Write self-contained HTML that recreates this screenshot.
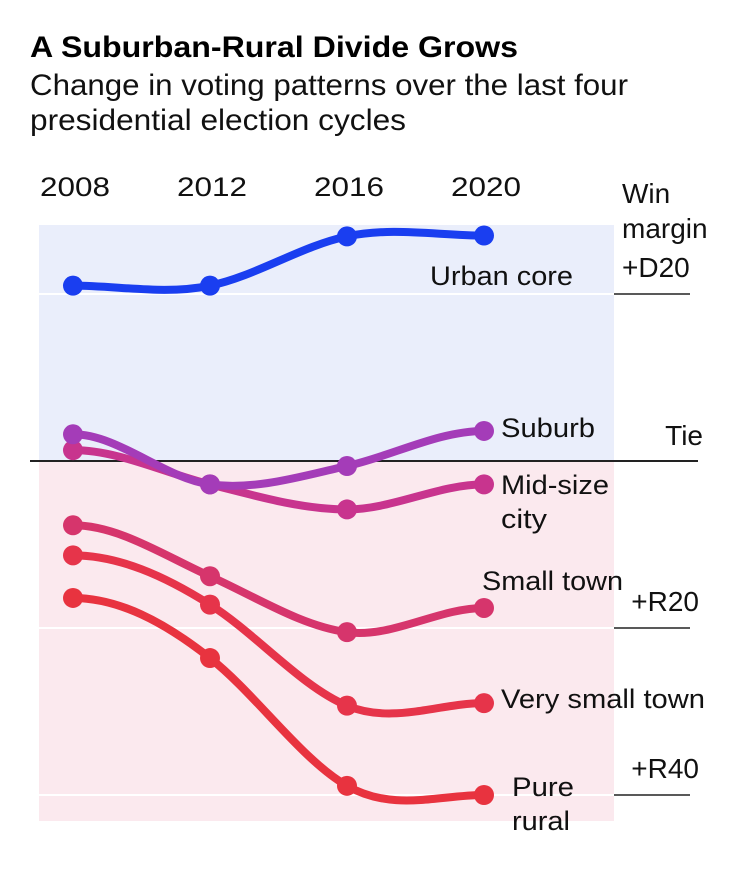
<!DOCTYPE html>
<html><head><meta charset="utf-8"><style>
html,body{margin:0;padding:0;background:#fff;width:750px;height:878px;overflow:hidden;font-family:"Liberation Sans",Arial,sans-serif}
</style></head><body>
<svg width="750" height="878" viewBox="0 0 750 878" style="position:absolute;left:0;top:0">
<text x="30" y="57" font-size="30" font-weight="bold" fill="#000" textLength="488" lengthAdjust="spacingAndGlyphs">A Suburban-Rural Divide Grows</text>
<text x="30" y="95" font-size="30" fill="#111" textLength="598" lengthAdjust="spacingAndGlyphs">Change in voting patterns over the last four</text>
<text x="30" y="130" font-size="30" fill="#111" textLength="376" lengthAdjust="spacingAndGlyphs">presidential election cycles</text>
<g id="bg"></g>
<g id="axes"></g>
<g id="series"></g>
</svg>
<script>
const years = ["2008","2012","2016","2020"];
const seriesNames = ["Urban core","Suburb","Mid-size city","Small town","Very small town","Pure rural"];
const urbanCore = [21, 21, 26.9, 27];
const suburb = [3.2, -2.8, -0.6, 3.6];
const midSizeCity = [1.3, -2.8, -5.8, -2.8];
const smallTown = [-7.7, -13.8, -20.5, -17.6];
const verySmallTown = [-11.3, -17.2, -29.3, -29];
const pureRural = [-16.4, -23.6, -38.9, -40];
const yTicks = [20, 0, -20, -40];
const yTickLabels = ["+D20","Tie","+R20","+R40"];

const NS="http://www.w3.org/2000/svg";
function x(i){return 73 + i*137;}
function y(v){return 461 - v*8.35;}
function mk(tag,attrs,parent,text){const e=document.createElementNS(NS,tag);for(const k in attrs)e.setAttribute(k,attrs[k]);if(text!==undefined)e.textContent=text;parent.appendChild(e);return e;}

const bg=document.getElementById('bg'), axes=document.getElementById('axes'), ser=document.getElementById('series');
let r=mk('rect',{x:39,y:225,width:575,height:y(0)-225,fill:'#eaeefb'},bg);


r=mk('rect',{x:39,y:y(0),width:575,height:821-y(0),fill:'#fbe9ee'},bg);



years.forEach((yr,i)=>{
  const t=mk('text',{x:x(i)+2,y:196,'font-size':27,'text-anchor':'middle',fill:'#111',textLength:70,lengthAdjust:'spacingAndGlyphs'},axes,yr);
  
  
});
yTicks.forEach((v,i)=>{
  const yy=y(v);
  if(v===0){
    const l=mk('line',{x1:30,x2:698,y1:yy,y2:yy,stroke:'#222','stroke-width':2},axes);
    
    
    const t=mk('text',{x:703,y:yy-16,'font-size':28,'text-anchor':'end',fill:'#111'},axes,yTickLabels[i]);
    
    
  } else {
    const g=mk('line',{x1:39,x2:614,y1:yy,y2:yy,stroke:'#fff','stroke-width':2},axes);
    
    
    const l=mk('line',{x1:614,x2:690,y1:yy,y2:yy,stroke:'#222','stroke-width':1.5},axes);
    
    
    const t=mk('text',{x:v>0?622:699,y:yy-17,'font-size':28,'text-anchor':v>0?'start':'end',fill:'#111'},axes,yTickLabels[i]);
    
    
  }
});
let t=mk('text',{x:622,y:203,'font-size':28,fill:'#111'},axes,'Win');


t=mk('text',{x:622,y:238,'font-size':28,fill:'#111'},axes,'margin');



// cardinal-style spline with flat end tangents
function smooth(pts){
  const n=pts.length, h=pts[1][0]-pts[0][0];
  const ys=pts.map(p=>p[1]);
  const m=ys.map((v,i)=>(i===0||i===n-1)?0:1.15*(ys[i+1]-ys[i-1])/(2*h));
  let d='M'+pts[0][0]+','+ys[0];
  for(let i=0;i<n-1;i++){
    const x0=pts[i][0],x1=pts[i+1][0];
    d+=' C'+(x0+h/3)+','+(ys[i]+m[i]*h/3)+' '+(x1-h/3)+','+(ys[i+1]-m[i+1]*h/3)+' '+x1+','+ys[i+1];
  }
  return d;
}
const allData=[pureRural,verySmallTown,smallTown,midSizeCity,suburb,urbanCore];
const order=[5,4,3,2,1,0];
const colors=['#e8333f','#e6344a','#d6356c','#c8348e','#a43cb8','#1a3ef0'];
const labels=[
  [[512,796],[512,830]],
  [[501,708]],
  [[482,590]],
  [[501,494],[501,528]],
  [[501,437]],
  [[430,285]]
];
const lens={"Pure":62,"rural":58,"Very small town":204,"Small town":141,"Mid-size":108,"city":46,"Suburb":94,"Urban core":143};
allData.forEach((vals,k)=>{
  const name=seriesNames[order[k]];
  const slug=name.toLowerCase().replace(/[^a-z]+/g,'-');
  const pts=vals.map((v,i)=>[x(i),y(v)]);
  const p=mk('path',{d:smooth(pts),fill:'none',stroke:colors[k],'stroke-width':8,'stroke-linecap':'round'},ser);
  
  
  pts.forEach((pt,i)=>{
    const c=mk('circle',{cx:pt[0],cy:pt[1],r:10,fill:colors[k]},ser);
    
    
  });
  const words = name==='Mid-size city'?['Mid-size','city']:name==='Pure rural'?['Pure','rural']:[name];
  words.forEach((w,j)=>{
    const tt=mk('text',{x:labels[k][j][0],y:labels[k][j][1],'font-size':27,fill:'#111',textLength:lens[w],lengthAdjust:'spacingAndGlyphs'},ser,w);
    
    
  });
});
</script>
</body></html>
